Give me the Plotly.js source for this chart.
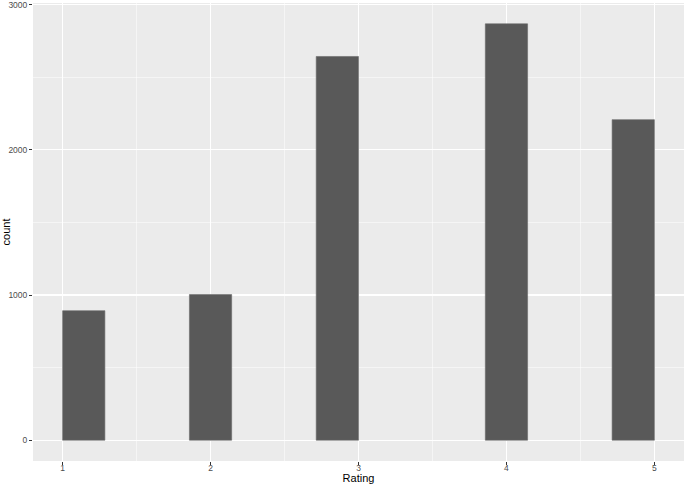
<!DOCTYPE html>
<html>
<head>
<meta charset="utf-8">
<script src="https://cdn.plot.ly/plotly-3.0.1.min.js"></script>
<style>
  body { margin: 0; background: #fff; }
  #chart { width: 685px; height: 484px; }
</style>
</head>
<body>
<div id="chart"></div>
<script>
// histogram bins (centres) and counts
const binCentres = [1.143, 2.0, 2.857, 4.0, 4.857],
    binWidth = 0.2857,
    counts = [892, 1003, 2643, 2868, 2208],
    xTicks = [1, 2, 3, 4, 5],
    xMinor = [1.5, 2.5, 3.5, 4.5];

const maxCount = Math.max(...counts);

let bars = {
    type: 'bar',
    x: binCentres,
    y: counts,
    width: binWidth,
    marker: {
        color: '#595959',
        line: { width: 0.6, color: '#6a6a6a' }
    },
    hoverinfo: 'x+y',
};

let layout = {
    width: 685,
    height: 484,
    margin: { l: 33, r: 1, t: 3, b: 23 },
    paper_bgcolor: '#ffffff',
    plot_bgcolor: '#EBEBEB',
    showlegend: false,
    bargap: 0,
    font: { family: 'Liberation Sans, Arial, sans-serif', size: 8.5, color: '#4D4D4D' },
    xaxis: {
        range: [0.8, 5.2],
        tickmode: 'array',
        tickvals: xTicks,
        ticktext: xTicks.map(String),
        ticks: 'outside',
        ticklen: 3,
        tickwidth: 1,
        tickcolor: '#333333',
        ticklabelstandoff: -4,
        showgrid: true,
        gridcolor: '#ffffff',
        gridwidth: 1.1,
        zeroline: false,
        showline: false,
        minor: {
            tickmode: 'array',
            tickvals: xMinor,
            showgrid: true,
            gridcolor: '#ffffff',
            gridwidth: 0.5,
            ticks: ''
        },
        title: { text: 'Rating', font: { size: 11, color: '#000000' }, standoff: 1 },
    },
    yaxis: {
        range: [-0.05 * maxCount, maxCount * 1.05],
        tick0: 0,
        dtick: 1000,
        ticks: 'outside',
        ticklen: 3,
        tickwidth: 1,
        tickcolor: '#333333',
        ticklabeloverflow: 'allow',
        showgrid: true,
        gridcolor: '#ffffff',
        gridwidth: 1.1,
        zeroline: false,
        showline: false,
        minor: {
            dtick: 500,
            showgrid: true,
            gridcolor: '#ffffff',
            gridwidth: 0.5,
            ticks: ''
        },
        title: { text: 'count', font: { size: 11, color: '#000000' }, standoff: 3 },
    },
};

Plotly.newPlot('chart', [bars], layout, { displayModeBar: false, staticPlot: true });
</script>
</body>
</html>
